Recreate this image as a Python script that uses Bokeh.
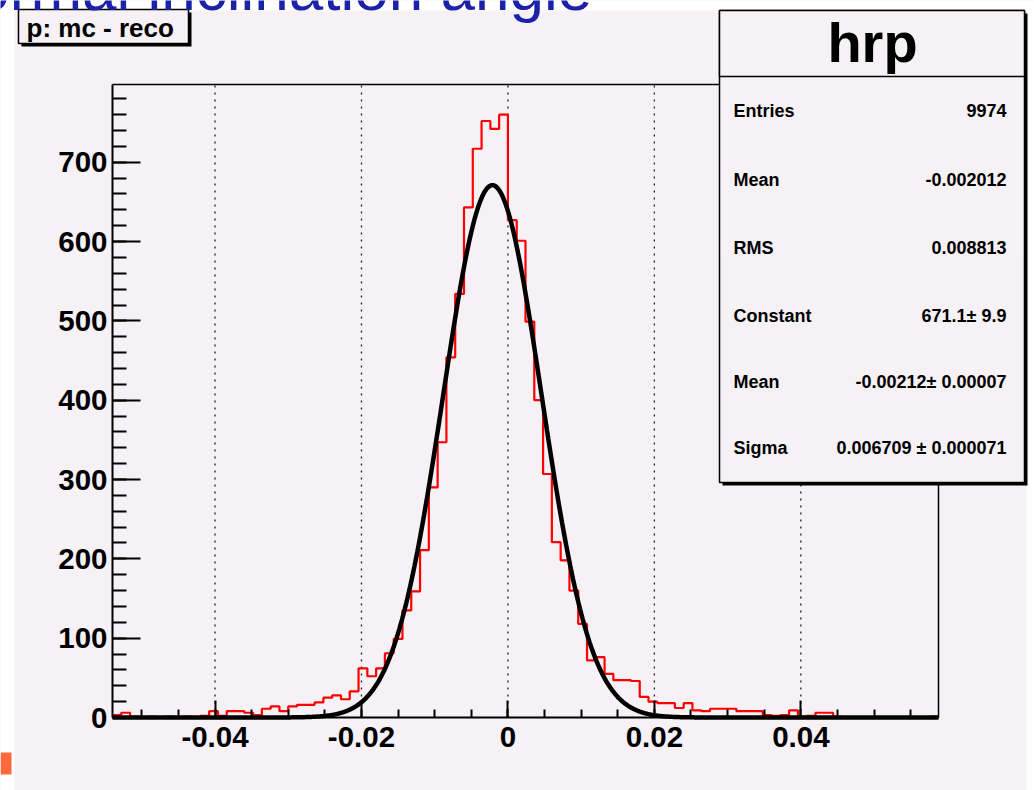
import numpy as np
from bokeh.plotting import figure
from bokeh.models import Range1d, FixedTicker, BoxAnnotation, Label, LinearAxis
from bokeh.embed import file_html
from bokeh.resources import INLINE

# ---------------- data ----------------
BIN_LOW = -0.054
BIN_WIDTH = 0.0012
COUNTS = [3, 6, 1, 0, 1, 0, 1, 0, 1, 0,
          2, 8, 2, 8, 8, 6, 3, 11, 14, 8,
          14, 16, 16, 19, 25, 28, 23, 33, 62, 52,
          62, 81, 99, 135, 159, 211, 290, 347, 454, 534,
          643, 717, 752, 742, 760, 627, 601, 499, 400, 307,
          221, 198, 160, 118, 72, 76, 55, 47, 47, 46,
          26, 20, 18, 18, 12, 18, 9, 8, 11, 11,
          11, 8, 8, 8, 3, 2, 3, 9, 1, 2,
          6, 6, 1, 0, 0, 0, 0, 0, 0, 0,
          0, 0, 0, 1]

FIT_CONSTANT = 671.1
FIT_MEAN = -0.00212
FIT_SIGMA = 0.006709

X_TICKS = [-0.04, -0.02, 0.0, 0.02, 0.04]
X_TICK_LABELS = ["-0.04", "-0.02", "0", "0.02", "0.04"]
X_MINOR = [-0.05, -0.045, -0.04, -0.035, -0.03, -0.025, -0.02, -0.015, -0.01, -0.005,
           0.0, 0.005, 0.01, 0.015, 0.02, 0.025, 0.03, 0.035, 0.04, 0.045, 0.05, 0.055]
Y_TICKS = [0, 100, 200, 300, 400, 500, 600, 700]
Y_MINOR = list(range(0, 800, 20))

HIST_NAME = "hrp"
PAD_TITLE = "p: mc - reco"
SLIDE_TITLE = "Normal inclination angle"
STAT_NAMES = ["Entries", "Mean", "RMS", "Constant", "Mean", "Sigma"]
STAT_VALUES = ["9974", "-0.002012", "0.008813", "671.1\u00b1 9.9",
               "-0.00212\u00b1 0.00007", "0.006709 \u00b1 0.000071"]

# ---------------- geometry ----------------
X0, X1 = -0.054, 0.0588          # histogram axis range
Y0, Y1 = 0, 798
W, H = 1034, 790
FL, FR, FT, FB = 112, 938, 84, 717   # where the histogram frame sits on the page
PINK = "#f5f1f5"
FONT = "Liberation Sans"


def dx(px):
    return X0 + (px - FL) / (FR - FL) * (X1 - X0)


def dy(py):
    return Y0 + (FB - py) / (FB - FT) * (Y1 - Y0)


# the plotting frame covers the whole page; axes are pinned at the histogram frame
p = figure(width=W, height=H, x_range=Range1d(dx(0), dx(W)), y_range=Range1d(dy(H), dy(0)),
           output_backend="svg", toolbar_location=None, min_border=0,
           border_fill_color=PINK, background_fill_color=PINK,
           outline_line_color=None)
p.xgrid.visible = False
p.ygrid.visible = False

xa = p.xaxis[0]
ya = p.yaxis[0]
xa.fixed_location = Y0
xa.bounds = (X0, X1)
ya.fixed_location = X0
ya.bounds = (Y0, Y1)

for ax in (xa, ya):
    ax.axis_line_width = 2
    ax.axis_line_color = "black"
    ax.major_tick_line_width = 2
    ax.minor_tick_line_width = 2
    ax.major_tick_out = 0
    ax.minor_tick_out = 0
    ax.major_label_text_font = FONT
    ax.major_label_text_font_style = "bold"
    ax.major_label_text_font_size = "29.5px"
    ax.major_label_text_color = "black"

xa.ticker = FixedTicker(ticks=X_TICKS, minor_ticks=X_MINOR)
xa.major_label_overrides = {t: s for t, s in zip(X_TICKS, X_TICK_LABELS)}
xa.major_tick_in = 17
xa.minor_tick_in = 8
xa.major_label_standoff = 9

ya.ticker = FixedTicker(ticks=Y_TICKS, minor_ticks=Y_MINOR)
ya.major_tick_in = 28
ya.minor_tick_in = 14
ya.major_label_standoff = 5

# frame top / right lines
top_ax = LinearAxis(fixed_location=Y1, bounds=(X0, X1), ticker=FixedTicker(ticks=[]),
                    axis_line_width=1.5, axis_line_color="black",
                    major_label_text_font_size="0px", major_tick_line_color=None,
                    minor_tick_line_color=None)
right_ax = LinearAxis(fixed_location=X1, bounds=(Y0, Y1), ticker=FixedTicker(ticks=[]),
                      axis_line_width=1.5, axis_line_color="black",
                      major_label_text_font_size="0px", major_tick_line_color=None,
                      minor_tick_line_color=None)
p.add_layout(top_ax, "above")
p.add_layout(right_ax, "right")

# dotted vertical grid at the major x ticks
p.segment(x0=X_TICKS, y0=[Y0] * len(X_TICKS), x1=X_TICKS, y1=[Y1] * len(X_TICKS),
          line_color="#222222", line_width=1.3, line_dash="2 5")

# histogram staircase
edges = BIN_LOW + BIN_WIDTH * np.arange(len(COUNTS) + 1)
sx = np.repeat(edges, 2)[1:-1]
sy = np.repeat(np.array(COUNTS, dtype=float), 2)
p.line(sx, sy, line_color="#ff0000", line_width=2.2)

# gaussian fit
fx = np.linspace(X0, X1, 600)
fy = FIT_CONSTANT * np.exp(-0.5 * ((fx - FIT_MEAN) / FIT_SIGMA) ** 2)
p.line(fx, fy, line_color="black", line_width=4.5)


# ---------------- decorations (canvas pixel units) ----------------
def box(l, t, r, b, fill, line=None, lw=0, level="annotation"):
    p.add_layout(BoxAnnotation(left=l, right=r, top=t, bottom=b,
                               left_units="canvas", right_units="canvas",
                               top_units="canvas", bottom_units="canvas",
                               fill_color=fill, fill_alpha=1,
                               line_color=line if line else "black",
                               line_alpha=1 if line else 0, line_width=lw,
                               level=level))


def lab(px, py, text, size, align="left", baseline="middle", color="black", style="bold"):
    p.add_layout(Label(x=px, y=py, x_units="canvas", y_units="canvas", text=text,
                       text_font=FONT,
                       text_font_size=f"{size}px", text_font_style=style,
                       text_align=align, text_baseline=baseline, text_color=color,
                       level="overlay"))


# white page margins
box(0, 0, 14, H, "white", level="image")
box(1026, 0, W, H, "white", level="image")
box(0, 0, W, 10, "white", level="image")
box(0, 752, 11, 774, "#ff6a3c", level="image")

# slide title (cut by the page top, as in the original slide)
lab(-70, -12, SLIDE_TITLE, 62, baseline="alphabetic", color="#1c22a8", style="normal")

# pad title box
box(21, 12, 191, 46, "black")
box(18, 9, 188, 43, PINK, line="black", lw=1.5)
lab(26, 27, PAD_TITLE, 26, baseline="alphabetic")

# stats box
box(722, 13, 1027, 485, "black")
box(719, 10, 1024, 482, PINK, line="black", lw=1.5)
box(719, 10, 1024, 76, PINK, line="black", lw=1.5)
lab(872, 42, HIST_NAME, 56, align="center", baseline="alphabetic")
row_y = [110, 179, 247, 315, 381, 447]
for yy, n, v in zip(row_y, STAT_NAMES, STAT_VALUES):
    lab(733, yy, n, 18)
    lab(1006, yy, v, 18, align="right")

open("out.html", "w").write(file_html(p, INLINE))
